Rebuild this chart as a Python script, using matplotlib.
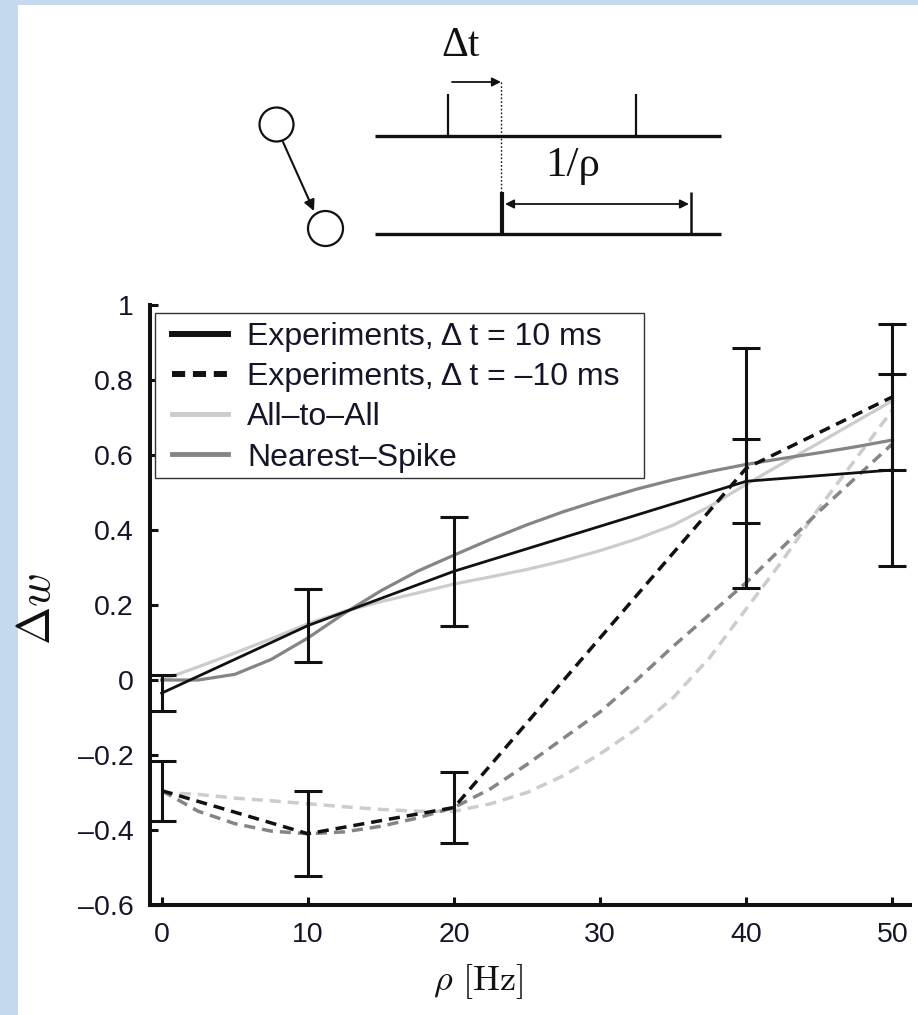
import matplotlib
matplotlib.use("Agg")
import matplotlib.pyplot as plt
from matplotlib.patches import Rectangle, Circle
from matplotlib.lines import Line2D

plt.rcParams["font.family"] = ["Liberation Sans", "DejaVu Sans"]
plt.rcParams["mathtext.fontset"] = "cm"

# experimental data (mean and error bar half-width)
rho = [0, 10, 20, 40, 50]
exp_pos = [-0.035, 0.145, 0.29, 0.53, 0.56]
err_pos = [0.048, 0.097, 0.145, 0.112, 0.256]
exp_neg = [-0.295, -0.41, -0.34, 0.565, 0.755]
err_neg = [0.08, 0.113, 0.095, 0.32, 0.195]

# model curves
rho_fine = [0, 2.5, 5, 7.5, 10, 12.5, 15, 17.5, 20, 22.5, 25,
            27.5, 30, 32.5, 35, 37.5, 40, 42.5, 45, 47.5, 50]
ata_pos = [0.0, 0.035, 0.072, 0.11, 0.15, 0.183, 0.209, 0.232, 0.256, 0.275, 0.295,
           0.318, 0.345, 0.376, 0.413, 0.463, 0.522, 0.578, 0.633, 0.689, 0.745]
ns_pos = [0.0, 0.0, 0.015, 0.055, 0.112, 0.178, 0.238, 0.29, 0.333, 0.375, 0.414,
          0.449, 0.48, 0.509, 0.534, 0.556, 0.575, 0.591, 0.606, 0.622, 0.64]
ata_neg = [-0.30, -0.305, -0.315, -0.322, -0.33, -0.338, -0.345, -0.35, -0.35, -0.33, -0.30,
           -0.255, -0.197, -0.13, -0.047, 0.06, 0.19, 0.32, 0.46, 0.59, 0.72]
ns_neg = [-0.295, -0.35, -0.383, -0.403, -0.41, -0.405, -0.39, -0.368, -0.34, -0.29, -0.225,
          -0.155, -0.085, 0.0, 0.09, 0.175, 0.26, 0.355, 0.45, 0.54, 0.63]

labels = ["Experiments, \u0394 t = 10 ms", "Experiments, \u0394 t = \u201310 ms",
          "All\u2013to\u2013All", "Nearest\u2013Spike"]
xticks = [0, 10, 20, 30, 40, 50]
yticks = [-0.6, -0.4, -0.2, 0, 0.2, 0.4, 0.6, 0.8, 1]
ytick_labels = ["\u20130.6", "\u20130.4", "\u20130.2", "0", "0.2", "0.4", "0.6", "0.8", "1"]

black = "#111111"
light = "#cccccc"
mid = "#858585"
txt = "#15152a"
dash = (0, (3.2, 2.0))

W, H = 918, 1015
fig = plt.figure(figsize=(W / 100, H / 100), dpi=100)
fig.patch.set_facecolor("#c4d9ee")
fig.add_artist(Rectangle((18 / W, 0), 1, 1 - 5 / H, transform=fig.transFigure,
                         facecolor="white", edgecolor="none", zorder=-1))

# ---------- schematic on top (pixel coordinates) ----------
sk = fig.add_axes([0, 0, 1, 1])
sk.set_xlim(0, W)
sk.set_ylim(H, 0)
sk.axis("off")

sk.add_patch(Circle((276.5, 124.5), 17, fill=False, lw=1.6, color=black))
sk.add_patch(Circle((325.5, 228.5), 17.5, fill=False, lw=1.6, color=black))
sk.annotate("", xy=(314, 211), xytext=(283, 142),
            arrowprops=dict(arrowstyle="-|>", lw=1.5, color=black, mutation_scale=16,
                            shrinkA=0, shrinkB=0))
sk.plot([375, 721], [136, 136], color=black, lw=2.4, solid_capstyle="butt")
sk.plot([375, 721], [234, 234], color=black, lw=2.4, solid_capstyle="butt")
sk.vlines([448, 636], 94, 136, color=black, lw=1.6)
sk.vlines([502], 192, 234, color=black, lw=3.0)
sk.vlines([691], 192, 234, color=black, lw=1.8)
sk.plot([501, 501], [82, 192], color=black, lw=1.0, ls=(0, (1.2, 1.5)))
sk.annotate("", xy=(501, 82), xytext=(452, 82),
            arrowprops=dict(arrowstyle="-|>", lw=1.3, color=black, mutation_scale=13,
                            shrinkA=0, shrinkB=0))
sk.annotate("", xy=(689, 204), xytext=(505, 204),
            arrowprops=dict(arrowstyle="<|-|>", lw=1.3, color=black, mutation_scale=13,
                            shrinkA=0, shrinkB=0))
sk.text(461, 46, "\u0394t", family="Liberation Serif", fontsize=30, ha="center", va="center", color=black)
sk.text(573, 166, "1/\u03c1", family="Liberation Serif", fontsize=31, ha="center", va="center", color=black)

# ---------- main plot ----------
ax = fig.add_axes([150 / W, (H - 905) / H, 760 / W, 600 / H])
ax.set_facecolor("none")

ax.plot(rho_fine, ata_pos, color=light, lw=2.3, zorder=2)
ax.plot(rho_fine, ata_neg, color=light, lw=2.5, ls=dash, zorder=2)
ax.plot(rho_fine, ns_pos, color=mid, lw=2.3, zorder=2)
ax.plot(rho_fine, ns_neg, color=mid, lw=2.5, ls=dash, zorder=2)
ax.plot(rho, exp_pos, color=black, lw=2.0, zorder=3)
ax.plot(rho, exp_neg, color=black, lw=2.5, ls=dash, zorder=3)
ax.errorbar(rho, exp_pos, yerr=err_pos, fmt="none", ecolor=black, elinewidth=2.2,
            capsize=10, capthick=2.2, zorder=4)
ax.errorbar(rho, exp_neg, yerr=err_neg, fmt="none", ecolor=black, elinewidth=2.2,
            capsize=10, capthick=2.2, zorder=4)

ax.set_xlim(-0.8, 51.2)
ax.set_ylim(-0.6, 1)
ax.set_xticks(xticks)
ax.set_yticks(yticks)
ax.set_yticklabels(ytick_labels)
for side in ["top", "right"]:
    ax.spines[side].set_visible(False)
for side in ["left", "bottom"]:
    ax.spines[side].set_linewidth(2.9)
    ax.spines[side].set_color(black)
ax.tick_params(direction="in", length=6, width=2.2, color=black, labelsize=20.5,
               labelcolor=txt)
ax.tick_params(axis="y", pad=12)
ax.tick_params(axis="x", pad=12)

ax.set_ylabel(r"$\Delta w$", fontsize=33, color=black)
ax.yaxis.set_label_coords((60 - 150) / 760, (905 - 609) / 600)
ax.set_xlabel(r"$\rho\ [\mathrm{Hz}]$", fontsize=26, color=black)
ax.xaxis.set_label_coords((478 - 150) / 760, (905 - 962) / 600)

# legend with a hand-placed frame
ax.add_patch(Rectangle(((155 - 150) / 760, (905 - 478) / 600), (644 - 155) / 760, (478 - 313) / 600,
                       transform=ax.transAxes, facecolor="white", edgecolor="#333333",
                       lw=1.0, zorder=5))
handles = [Line2D([], [], color=black, lw=4.3),
           Line2D([], [], color=black, lw=4.3, ls=(0, (2.2, 1.3))),
           Line2D([], [], color=light, lw=3.5),
           Line2D([], [], color=mid, lw=3.5)]
leg = ax.legend(handles, labels, loc="upper left", bbox_to_anchor=((172 - 150) / 760, (905 - 322) / 600),
                frameon=False, borderaxespad=0, borderpad=0, fontsize=23, handlelength=1.75,
                handletextpad=0.6, labelspacing=0.32, labelcolor=txt)
leg.set_zorder(6)

fig.savefig("out.png", dpi=100)
